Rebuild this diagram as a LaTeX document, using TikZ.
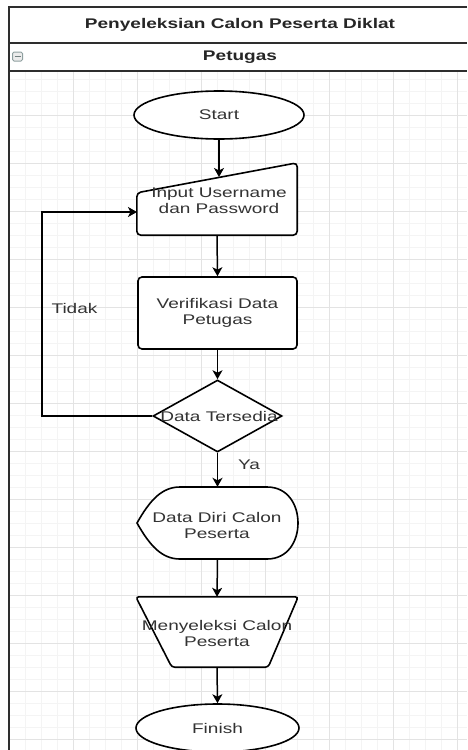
\documentclass[tikz,border=0pt]{standalone}
\usepackage{fontspec}
\setmainfont{Liberation Sans}[FakeStretch=1.36]
\usetikzlibrary{shapes.geometric,arrows.meta}
\definecolor{frame}{HTML}{2E2E2E}
\definecolor{gminor}{HTML}{F4F4F4}
\definecolor{gmajor}{HTML}{E3E3E3}
\definecolor{txtc}{HTML}{333333}
\definecolor{iconc}{HTML}{8FA0A0}
\tikzset{
  lbl/.style={font=\fontsize{14}{16}\selectfont, text=txtc, align=center, inner sep=0pt},
  shp/.style={draw=black, line width=1.6pt, fill=white},
  arr/.style={draw=black, line width=1.5pt, -{Stealth[length=9pt,width=10pt,inset=2.5pt]}},
  box/.style={rectangle, minimum width=#1, inner sep=0pt},
}
\begin{document}
\begin{tikzpicture}[x=1pt,y=-1pt]
\useasboundingbox (0,0) rectangle (467,750);
\fill[white] (0,0) rectangle (467,750);
% grid
\begin{scope}
\clip (9,71) rectangle (467,750);
\foreach \x in {9,25,...,475} \draw[gminor, line width=0.6pt] (\x,71) -- (\x,750);
\foreach \y in {67,79,...,755} \draw[gminor, line width=0.6pt] (9,\y) -- (467,\y);
\foreach \x in {9,73,...,475} \draw[gmajor, line width=0.8pt] (\x,71) -- (\x,750);
\foreach \y in {67,115,...,755} \draw[gmajor, line width=0.8pt] (9,\y) -- (467,\y);
\end{scope}
% pool frame
\draw[frame, line width=1.8pt] (467,7) -- (9,7) -- (9,750);
\draw[frame, line width=1.8pt] (9,43) -- (467,43);
\draw[frame, line width=1.8pt] (9,71) -- (467,71);
\node[font=\bfseries\fontsize{14}{16}\selectfont, text=black!85] (title) at (240,25) {Penyeleksian Calon Peserta Diklat};
\node[font=\bfseries\fontsize{14}{16}\selectfont, text=black!85] (lane) at (240,57) {Petugas};
\draw[iconc, line width=1pt, fill=gray!15, rounded corners=1.5pt] (12.5,52) rectangle (22.5,61);
\draw[iconc!80!black, line width=1.2pt] (14.5,56.5) -- (20.5,56.5);

% Start
\node[shp, ellipse, minimum width=170pt, minimum height=48pt, inner sep=0pt, lbl] (start) at (219,115) {Start};
% Input (manual input)
\node[box=160pt, minimum height=72pt] (inp) at (217,199) {};
\draw[shp, rounded corners=4pt] (inp.south west) -- ([yshift=-30pt]inp.north west) -- (inp.north east) -- (inp.south east) -- cycle;
\node[lbl] at (219,200.5) {Input Username\\dan Password};
% Verifikasi
\node[shp, rectangle, rounded corners=4pt, minimum width=159pt, minimum height=72pt, lbl] (ver) at (217.5,313) {Verifikasi Data\\Petugas};
% Decision
\node[shp, diamond, minimum width=129pt, minimum height=72pt, inner sep=0pt] (dec) at (217.5,416) {};
\node[lbl] (dectxt) at (219,416) {Data Tersedia};
% Display
\node[box=161pt, minimum height=72pt] (disp) at (217.5,523) {};
\draw[shp] (137,523) .. controls (150,500) and (162,487) .. (180,487) -- (267,487)
  .. controls (288,487) and (298,505) .. (298,523)
  .. controls (298,541) and (288,559) .. (267,559) -- (180,559)
  .. controls (162,559) and (150,546) .. (137,523) -- cycle;
\node[lbl] at (217,525) {Data Diri Calon\\Peserta};
% Manual operation (trapezoid)
\node[box=162pt, minimum height=70pt] (trap) at (217,632) {};
\draw[shp, rounded corners=3pt] (trap.north west) -- (trap.north east) -- ([xshift=-30pt]trap.south east) -- ([xshift=36pt]trap.south west) -- cycle;
\node[lbl] at (217,633) {Menyeleksi Calon\\Peserta};
% Finish
\node[shp, ellipse, minimum width=163pt, minimum height=48pt, inner sep=0pt, lbl] (fin) at (217.5,728) {Finish};

% connectors
\coordinate (inTop) at (219,177);
\coordinate (inL) at (137,212);
\coordinate (loopX) at (42,416);
\draw[arr] (start.south) -- (inTop);
\draw[arr] (inp.south) -- (ver.north);
\draw[arr] (ver.south) -- (dec.north);
\draw[arr] (dec.west) -- (loopX) |- (inL);
\draw[arr] (dec.south) -- (disp.north);
\draw[arr] (disp.south) -- (trap.north);
\draw[arr] (trap.south) -- (fin.north);
\node[lbl] (tidak) at (74.5,308) {Tidak};
\node[lbl] (ya) at (249,465) {Ya};
\end{tikzpicture}
\end{document}
